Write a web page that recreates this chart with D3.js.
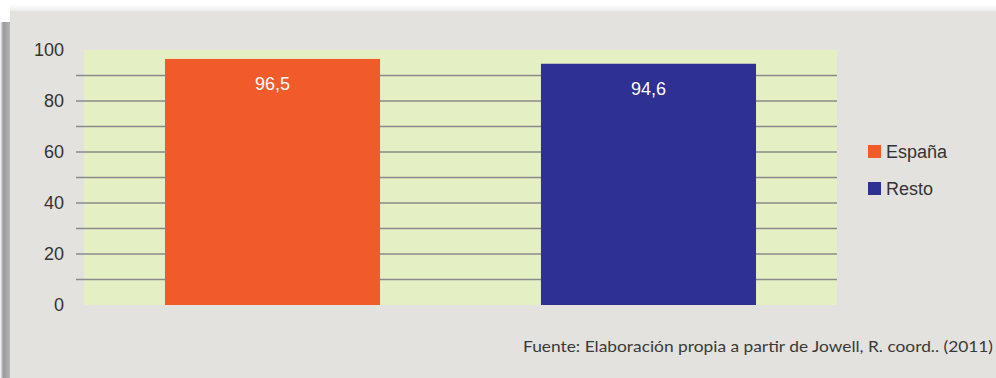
<!DOCTYPE html>
<html><head><meta charset="utf-8">
<script src="https://cdn.jsdelivr.net/npm/d3@7"></script>
<style>html,body{margin:0;padding:0;background:#fff;}svg{display:block;}</style>
</head><body>
<script>
const categories = ["España", "Resto"];
const values = [96.5, 94.6];
const valueLabels = ["96,5", "94,6"];
const colors = ["#f15a29", "#2e3192"];
const tickLabels = [0, 20, 40, 60, 80, 100];
const gridValues = [10, 20, 30, 40, 50, 60, 70, 80, 90];
const source = "Fuente: Elaboración propia a partir de Jowell, R. coord.. (2011)";

const W = 996, H = 378;
const FONT = "Liberation Sans, Arial, sans-serif";
const svg = d3.select("body").append("svg").attr("width", W).attr("height", H);
const defs = svg.append("defs");
const lg = defs.append("linearGradient").attr("id","lsh").attr("x1","0").attr("x2","1");
lg.append("stop").attr("offset","0").attr("stop-color","#ffffff");
lg.append("stop").attr("offset","0.3").attr("stop-color","#9a9a9c");
lg.append("stop").attr("offset","1").attr("stop-color","#b8b8b8");
const tg = defs.append("linearGradient").attr("id","tsh").attr("x1","0").attr("x2","0").attr("y1","0").attr("y2","1");
tg.append("stop").attr("offset","0").attr("stop-color","#ffffff");
tg.append("stop").attr("offset","1").attr("stop-color","#ededed");

svg.append("rect").attr("width",W).attr("height",H).attr("fill","#fff");
svg.append("rect").attr("x",10).attr("y",4).attr("width",W-10).attr("height",7).attr("fill","url(#tsh)");
svg.append("rect").attr("x",0).attr("y",22).attr("width",11).attr("height",H-22).attr("fill","url(#lsh)");
svg.append("rect").attr("x",10).attr("y",11).attr("width",W-10).attr("height",H-11).attr("fill","#e3e2de");

const x = d3.scaleBand().domain(categories).range([84, 837]).paddingInner(0.428).paddingOuter(0.2154);
const y = d3.scaleLinear().domain([0, 100]).range([305, 50]);

svg.append("rect").attr("x",84).attr("y",y(100)).attr("width",837-84).attr("height",y(0)-y(100)).attr("fill","#e5efc4");

svg.append("g").selectAll("line").data(gridValues).join("line")
  .attr("x1",76).attr("x2",837).attr("y1",d=>y(d)).attr("y2",d=>y(d))
  .attr("stroke","#8a8a8a").attr("stroke-width",1.5);

const yAxis = d3.axisLeft(y).tickValues(tickLabels).tickSize(0).tickPadding(0);
const ga = svg.append("g").attr("transform","translate(64,0)").call(yAxis);
ga.select(".domain").remove();
ga.selectAll("text").attr("font-family",FONT).attr("font-size",18).attr("fill","#333");

svg.append("g").selectAll("rect").data(categories).join("rect")
  .attr("x",d=>x(d)).attr("width",x.bandwidth())
  .attr("y",(d,i)=>y(values[i])).attr("height",(d,i)=>y(0)-y(values[i]))
  .attr("fill",(d,i)=>colors[i]);

svg.append("g").selectAll("text").data(categories).join("text")
  .attr("x",d=>x(d)+x.bandwidth()/2).attr("y",(d,i)=>y(values[i])+31.5)
  .attr("text-anchor","middle").attr("font-family",FONT)
  .attr("font-size",18).attr("fill","#fff").text((d,i)=>valueLabels[i]);

const leg = svg.append("g").selectAll("g").data(categories).join("g")
  .attr("transform",(d,i)=>`translate(868,${145 + i*37})`);
leg.append("rect").attr("width",13).attr("height",13).attr("fill",(d,i)=>colors[i]);
leg.append("text").attr("x",18).attr("y",12.8).attr("font-family",FONT)
  .attr("font-size",18).attr("fill","#333").text(d=>d);

svg.append("text").attr("x",523).attr("y",352).attr("font-family","Lato, Noto Sans, sans-serif")
  .attr("font-size",15).attr("fill","#3a3a3a").attr("textLength",470).attr("lengthAdjust","spacingAndGlyphs").text(source);
</script>
</body></html>
